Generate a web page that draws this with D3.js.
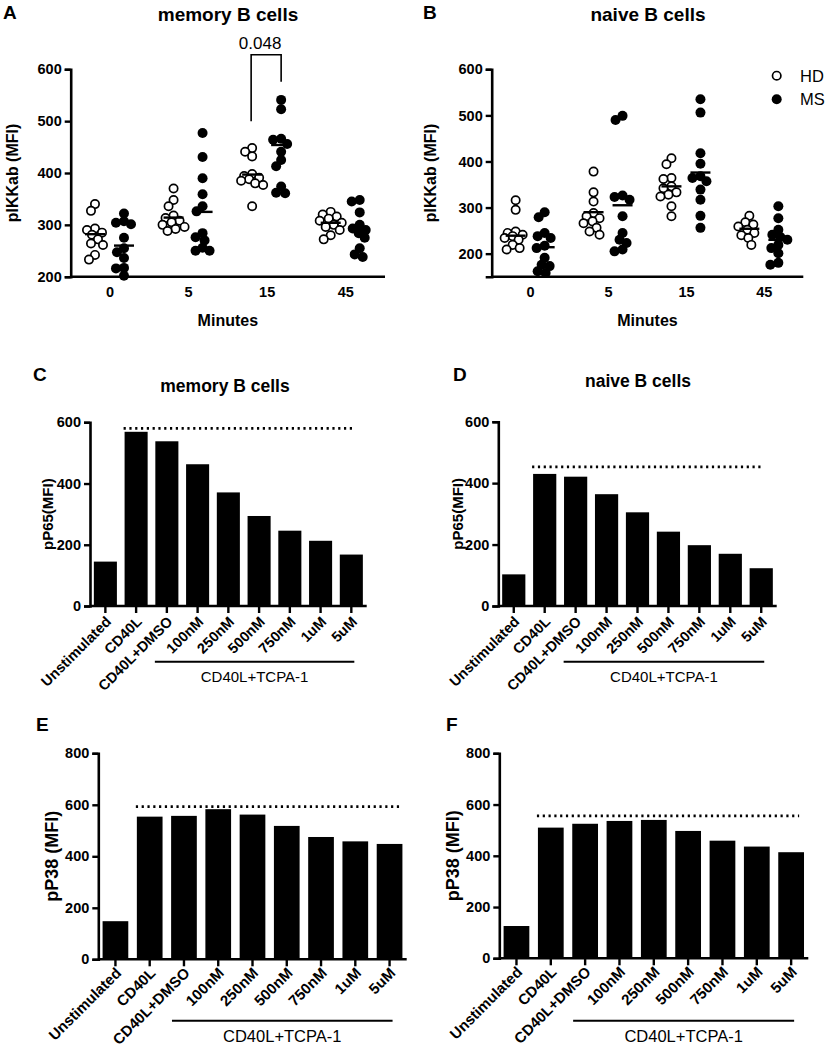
<!DOCTYPE html>
<html><head><meta charset="utf-8">
<script src="https://cdn.jsdelivr.net/npm/d3@7"></script>
<style>
body{margin:0;background:#fff;}
text{font-family:"Liberation Sans",Arial,Helvetica,sans-serif;fill:#000;}
</style></head>
<body>
<script>
// ---------- DATA ----------
const timepoints = ["0", "5", "15", "45"];
// Panel A: memory B cells, pIKKab (MFI)
const memHD = [
  [340, 327, 293, 290, 285, 281, 272, 264, 261, 242, 233],
  [370, 348, 336, 318, 313, 308, 305, 300, 296, 292, 288],
  [448, 441, 432, 398, 394, 391, 388, 385, 380, 377, 336],
  [325, 320, 316, 312, 308, 304, 300, 296, 290, 280, 272]
];
const memMS = [
  [322, 307, 304, 301, 275, 255, 247, 236, 217, 216, 202],
  [477, 431, 390, 359, 336, 326, 284, 276, 270, 256, 250, 250],
  [541, 523, 466, 464, 456, 441, 425, 413, 374, 362, 361],
  [348, 345, 324, 300, 293, 290, 284, 275, 255, 243, 238]
];
const memHDMean = [282, 314, 397, 304];
const memMSMean = [260, 325, 454, 289];
// Panel B: naive B cells
const naiHD = [
  [316, 295, 248, 245, 241, 238, 234, 230, 219, 212, 209],
  [378, 333, 313, 288, 281, 277, 270, 266, 256, 248, 241],
  [407, 394, 364, 362, 346, 342, 333, 328, 324, 303, 281],
  [282, 268, 263, 259, 252, 245, 240, 234, 219]
];
const naiMS = [
  [290, 279, 245, 238, 234, 217, 212, 191, 176, 173, 162, 158],
  [499, 490, 326, 323, 317, 281, 245, 230, 223, 209, 205],
  [535, 506, 418, 395, 368, 364, 357, 339, 317, 282, 256],
  [303, 277, 252, 241, 236, 230, 219, 212, 201, 180, 176]
];
const naiHDMean = [239, 290, 346, 254];
const naiMSMean = [214, 305, 376, 230];
// significance bracket in panel A
const sigBracket = {time: "15", top: 628, hdEnd: 500, msEnd: 576, label: "0.048"};

// Bar panels
const treatments = ["Unstimulated", "CD40L", "CD40L+DMSO", "100nM", "250nM", "500nM", "750nM", "1uM", "5uM"];
const p65Memory = [145, 569, 538, 463, 371, 294, 246, 213, 168];
const p65Naive  = [103, 430, 421, 364, 305, 242, 198, 170, 123];
const p38Memory = [148, 554, 557, 583, 562, 518, 475, 458, 448];
const p38Naive  = [126, 510, 525, 536, 540, 497, 459, 436, 414];
const refLines = {C: 580, D: 453, E: 593, F: 556};
const groupLabel = "CD40L+TCPA-1";

// ---------- DRAW ----------
const svg = d3.select("body").append("svg").attr("width", 825).attr("height", 1050);

function panelLetter(t, x, y) {
  svg.append("text").attr("x", x).attr("y", y).attr("font-size", 19).attr("font-weight", "bold").text(t);
}

function yAxis(g, y, x0, ticks, fs) {
  const ax = d3.axisLeft(y).tickValues(ticks).tickSize(6).tickPadding(3).tickFormat(d3.format("d"));
  const a = g.append("g").attr("transform", `translate(${x0},0)`).call(ax);
  a.select(".domain").attr("stroke", "#000").attr("stroke-width", 2.6);
  a.selectAll(".tick line").attr("stroke", "#000").attr("stroke-width", 2.4);
  a.selectAll(".tick text").attr("font-size", fs).attr("font-weight", "bold")
    .attr("font-family", "Liberation Sans, Arial, sans-serif").attr("fill", "#000");
  return a;
}

// compact swarm: points may overlap slightly, spread limited to +-maxOff
function beeswarm(vals, y, cx, minD, maxOff) {
  const sorted = vals.map((v, i) => ({v, i})).sort((a, b) => b.v - a.v);
  const placed = [];
  sorted.forEach(p => {
    const py = y(p.v);
    let best = null, bestScore = -1;
    for (let k = 0; k <= 2 * maxOff; k++) {
      const off = (k % 2 === 0 ? 1 : -1) * Math.ceil(k / 2);
      const dmin = placed.length ? d3.min(placed, q => Math.hypot(q.x - (cx + off), q.y - py)) : 1e9;
      if (dmin >= minD) { best = off; break; }
      if (dmin > bestScore) { bestScore = dmin; best = off; }
    }
    placed.push({x: cx + best, y: py, v: p.v});
  });
  return placed;
}

function scatterPanel(cfg) {
  const g = svg.append("g");
  const x = d3.scaleBand().domain(timepoints).range([cfg.left, cfg.right]);
  const y = d3.scaleLinear().domain(cfg.yDomain).range([cfg.bottom, cfg.top]);
  g.append("text").attr("x", cfg.titleX).attr("y", 21).attr("text-anchor", "middle")
    .attr("font-size", 19).attr("font-weight", "bold").text(cfg.title);
  yAxis(g, y, cfg.left, [200, 300, 400, 500, 600], 14.5);
  const xa = g.append("g").attr("transform", `translate(0,${cfg.bottom})`)
    .call(d3.axisBottom(x).tickSize(0).tickPadding(10));
  xa.select(".domain").attr("stroke", "#000").attr("stroke-width", 2.6)
    .attr("d", `M${cfg.left},0H${cfg.right}`);
  xa.selectAll(".tick text").attr("font-size", 14.5).attr("font-weight", "bold")
    .attr("font-family", "Liberation Sans, Arial, sans-serif").attr("fill", "#000");
  g.append("text").attr("x", (cfg.left + cfg.right) / 2).attr("y", 326).attr("text-anchor", "middle")
    .attr("font-size", 16).attr("font-weight", "bold").text("Minutes");
  g.append("text").attr("transform", `translate(${cfg.ylabX},173) rotate(-90)`).attr("text-anchor", "middle")
    .attr("dy", "0.35em").attr("font-size", 16).attr("font-weight", "bold").text("pIKKab (MFI)");
  const r = 5;
  timepoints.forEach((t, i) => {
    const c = x(t) + x.bandwidth() / 2;
    const hdC = c - 15, msC = c + 14;
    beeswarm(cfg.hd[i], y, hdC, 7.5, 11).forEach(p => {
      g.append("circle").attr("cx", p.x).attr("cy", p.y).attr("r", r - 0.85)
        .attr("fill", "#fff").attr("stroke", "#000").attr("stroke-width", 1.7);
    });
    beeswarm(cfg.ms[i], y, msC, 7.5, 11).forEach(p => {
      g.append("circle").attr("cx", p.x).attr("cy", p.y).attr("r", r).attr("fill", "#000");
    });
    g.append("line").attr("x1", hdC - 10).attr("x2", hdC + 10)
      .attr("y1", y(cfg.hdMean[i])).attr("y2", y(cfg.hdMean[i])).attr("stroke", "#000").attr("stroke-width", 2.4);
    g.append("line").attr("x1", msC - 10).attr("x2", msC + 10)
      .attr("y1", y(cfg.msMean[i])).attr("y2", y(cfg.msMean[i])).attr("stroke", "#000").attr("stroke-width", 2.4);
  });
  return {g, x, y};
}

// Panel A
panelLetter("A", 3, 19);
const pa = scatterPanel({left: 70.7, right: 385, top: 69.3, bottom: 276.7, yDomain: [200, 600],
  title: "memory B cells", titleX: 228, ylabX: 12,
  hd: memHD, ms: memMS, hdMean: memHDMean, msMean: memMSMean});
{
  const c = pa.x(sigBracket.time) + pa.x.bandwidth() / 2;
  const xl = c - 16, xr = c + 14;
  pa.g.append("path").attr("fill", "none").attr("stroke", "#000").attr("stroke-width", 1.6)
    .attr("d", `M${xl},${pa.y(sigBracket.hdEnd)}V${pa.y(sigBracket.top)}H${xr}V${pa.y(sigBracket.msEnd)}`);
  pa.g.append("text").attr("x", (xl + xr) / 2 - 6).attr("y", 49).attr("text-anchor", "middle")
    .attr("font-size", 17).text(sigBracket.label);
}

// Panel B
panelLetter("B", 423, 19);
const pb = scatterPanel({left: 491.7, right: 803.3, top: 69.3, bottom: 276.7, yDomain: [150, 600],
  title: "naive B cells", titleX: 648, ylabX: 430,
  hd: naiHD, ms: naiMS, hdMean: naiHDMean, msMean: naiMSMean});
const legend = [{k: "HD", open: true}, {k: "MS", open: false}];
legend.forEach((d, i) => {
  const ly = 75.7 + i * 23.6;
  if (d.open) pb.g.append("circle").attr("cx", 776.7).attr("cy", ly).attr("r", 4.2)
    .attr("fill", "#fff").attr("stroke", "#000").attr("stroke-width", 1.7);
  else pb.g.append("circle").attr("cx", 776.7).attr("cy", ly).attr("r", 5).attr("fill", "#000");
  pb.g.append("text").attr("x", 800).attr("y", ly).attr("dy", "0.36em").attr("font-size", 16.5).text(d.k);
});

function barPanel(cfg) {
  const g = svg.append("g");
  const x = d3.scaleBand().domain(treatments).range([cfg.left, cfg.right]).paddingInner(0.25).paddingOuter(0.125);
  const y = d3.scaleLinear().domain([0, cfg.yMax]).range([cfg.bottom, cfg.top]);
  if (cfg.title) g.append("text").attr("x", cfg.titleX).attr("y", cfg.titleY).attr("text-anchor", "middle")
    .attr("font-size", 17.5).attr("font-weight", "bold").text(cfg.title);
  g.selectAll("rect.bar").data(cfg.values).join("rect").attr("class", "bar")
    .attr("x", (d, i) => x(treatments[i])).attr("width", x.bandwidth())
    .attr("y", d => y(d)).attr("height", d => cfg.bottom - y(d)).attr("fill", "#000");
  yAxis(g, y, cfg.left, d3.range(0, cfg.yMax + 1, 200), 14.5);
  const c = d => x(d) + x.bandwidth() / 2;
  const xa = g.append("g").attr("transform", `translate(0,${cfg.bottom})`)
    .call(d3.axisBottom(x).tickSize(7).tickFormat(""));
  xa.select(".domain").attr("stroke", "#000").attr("stroke-width", 2.6).attr("d", `M${cfg.left},0H${cfg.right}`);
  xa.selectAll(".tick line").attr("stroke", "#000").attr("stroke-width", 2.4);
  treatments.forEach(t => {
    g.append("text").attr("transform", `translate(${c(t) + 3},${cfg.bottom + cfg.labOff}) rotate(-45)`)
      .attr("text-anchor", "end").attr("dy", "0.35em").attr("font-size", cfg.rotFs).attr("font-weight", "bold").text(t);
  });
  g.append("line").attr("x1", x("CD40L") - 1).attr("x2", c("5uM") + cfg.dotEnd)
    .attr("y1", y(cfg.ref)).attr("y2", y(cfg.ref)).attr("stroke", "#000").attr("stroke-width", 2.6)
    .attr("stroke-dasharray", "2.2,3.6");
  const gx1 = c("CD40L+DMSO") - 12, gx2 = c("5uM") + 3;
  g.append("line").attr("x1", gx1).attr("x2", gx2).attr("y1", cfg.lineY).attr("y2", cfg.lineY)
    .attr("stroke", "#000").attr("stroke-width", 2);
  g.append("text").attr("x", (gx1 + gx2) / 2).attr("y", cfg.lineY + cfg.grpOff).attr("text-anchor", "middle")
    .attr("font-size", cfg.grpFs).text(groupLabel);
  g.append("text").attr("transform", `translate(${cfg.ylabX},${(cfg.top + cfg.bottom) / 2}) rotate(-90)`)
    .attr("text-anchor", "middle").attr("dy", "0.35em").attr("font-size", cfg.ylabFs).attr("font-weight", "bold").text(cfg.ylab);
}

panelLetter("C", 33, 381);
barPanel({left: 90, right: 366.7, top: 422.3, bottom: 606, yMax: 600, values: p65Memory, ref: refLines.C,
  title: "memory B cells", titleX: 225, titleY: 392, ylab: "pP65(MFI)", ylabX: 48, ylabFs: 15,
  rotFs: 14.5, labOff: 13, dotEnd: 4, lineY: 661.7, grpFs: 15, grpOff: 20});
panelLetter("D", 453, 381);
barPanel({left: 498.3, right: 776.7, top: 421.7, bottom: 606, yMax: 600, values: p65Naive, ref: refLines.D,
  title: "naive B cells", titleX: 638, titleY: 387, ylab: "pP65(MFI)", ylabX: 458, ylabFs: 15,
  rotFs: 14.5, labOff: 13, dotEnd: 0, lineY: 661.7, grpFs: 15, grpOff: 20});
panelLetter("E", 36, 731);
barPanel({left: 98.3, right: 406.7, top: 753.3, bottom: 959.3, yMax: 800, values: p38Memory, ref: refLines.E,
  ylab: "pP38 (MFI)", ylabX: 52, ylabFs: 18,
  rotFs: 15, labOff: 11, dotEnd: 10, lineY: 1020.7, grpFs: 16.5, grpOff: 21});
panelLetter("F", 446, 731);
barPanel({left: 499.3, right: 808.3, top: 753.3, bottom: 958.3, yMax: 800, values: p38Naive, ref: refLines.F,
  ylab: "pP38 (MFI)", ylabX: 453, ylabFs: 18,
  rotFs: 15, labOff: 11, dotEnd: 8, lineY: 1020.7, grpFs: 16.5, grpOff: 21});
</script>
</body></html>
